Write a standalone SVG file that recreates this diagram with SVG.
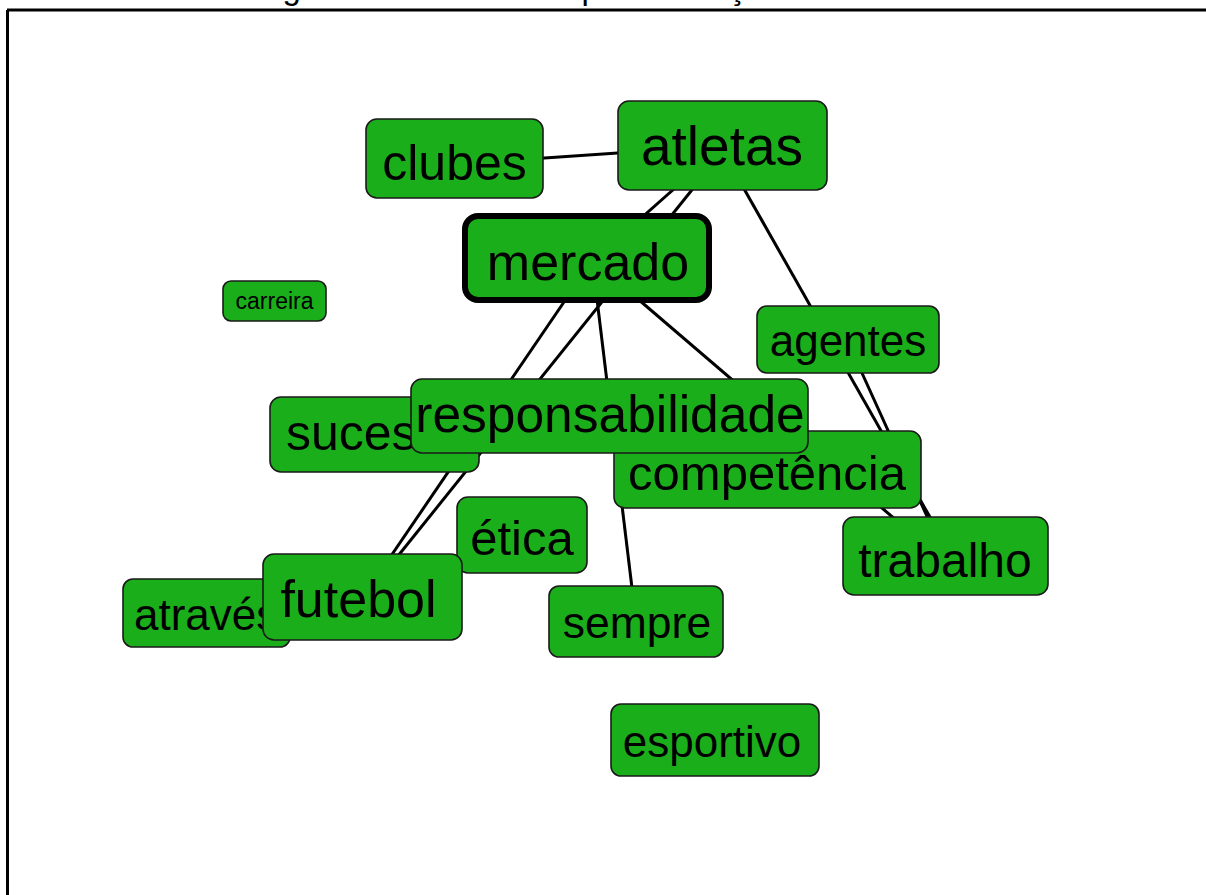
<svg xmlns="http://www.w3.org/2000/svg" width="1206" height="895" viewBox="0 0 1206 895">
<style>
.n{fill:#1bae1b;stroke:#1a1a1a;stroke-width:1.6}
.t{font-family:"Liberation Sans",Arial,sans-serif;fill:#000;text-anchor:middle}
.e{stroke:#000;stroke-width:3;fill:none}
</style>
<rect x="0" y="0" width="1206" height="895" fill="#fff"/>
<text x="608" y="-1" class="t" font-size="33">Figura 1 - Resultado após utilização do software</text>
<path d="M7,10 H1206 M7.5,10 V895" stroke="#000" stroke-width="3" fill="none"/>
<g id="connectors">
<line class="e" x1="455" y1="164" x2="720" y2="146"/>
<line class="e" x1="718" y1="150" x2="596" y2="258"/>
<line class="e" x1="724" y1="150" x2="365" y2="597"/>
<line class="e" x1="594" y1="258" x2="363" y2="597"/>
<line class="e" x1="592" y1="258" x2="636" y2="621"/>
<line class="e" x1="590" y1="258" x2="938" y2="556"/>
<line class="e" x1="722" y1="150" x2="952" y2="556"/>
<line class="e" x1="847" y1="340" x2="945" y2="556"/>
</g>
<g id="node-clubes"><rect class="n" x="366" y="119" width="177" height="79" rx="11"/><text class="t" x="454.5" y="180" font-size="50">clubes</text></g>
<g id="node-atletas"><rect class="n" x="618" y="101" width="209" height="89" rx="11"/><text class="t" x="722" y="165" font-size="55">atletas</text></g>
<g id="node-mercado"><rect x="465" y="216" width="244" height="84" rx="13" fill="#1bae1b" stroke="#000" stroke-width="6"/><text class="t" x="588" y="280" font-size="52">mercado</text></g>
<g id="node-carreira"><rect class="n" x="223" y="281" width="103" height="40" rx="8"/><text class="t" x="274.5" y="309" font-size="23">carreira</text></g>
<g id="node-agentes"><rect class="n" x="757" y="306" width="182" height="67" rx="10"/><text class="t" x="848" y="356" font-size="44">agentes</text></g>
<g id="node-sucesso"><rect class="n" x="270" y="397" width="209" height="75" rx="11"/><text x="286" y="450" font-size="50" font-family="Liberation Sans, Arial, sans-serif">sucesso</text></g>
<g id="node-competencia"><rect class="n" x="614" y="431" width="307" height="77" rx="11"/><text class="t" x="767" y="490" font-size="49">competência</text></g>
<g id="node-responsabilidade"><rect class="n" x="411" y="379" width="397" height="74" rx="11"/><text class="t" x="610" y="432" font-size="51.5">responsabilidade</text></g>
<g id="node-trabalho"><rect class="n" x="843" y="517" width="205" height="78" rx="11"/><text class="t" x="945" y="577" font-size="48">trabalho</text></g>
<g id="node-etica"><rect class="n" x="457" y="497" width="130" height="76" rx="11"/><text class="t" x="522" y="555" font-size="49">ética</text></g>
<g id="node-sempre"><rect class="n" x="549" y="586" width="174" height="71" rx="10"/><text class="t" x="637" y="638" font-size="44.5">sempre</text></g>
<g id="node-esportivo"><rect class="n" x="611" y="704" width="208" height="72" rx="10"/><text class="t" x="712" y="757" font-size="44">esportivo</text></g>
<g id="node-atraves"><rect class="n" x="123" y="579" width="167" height="68" rx="10"/><text x="134" y="630" font-size="44" font-family="Liberation Sans, Arial, sans-serif">através</text></g>
<g id="node-futebol"><rect class="n" x="263" y="554" width="199" height="86" rx="11"/><text class="t" x="358.5" y="617" font-size="52">futebol</text></g>
</svg>
